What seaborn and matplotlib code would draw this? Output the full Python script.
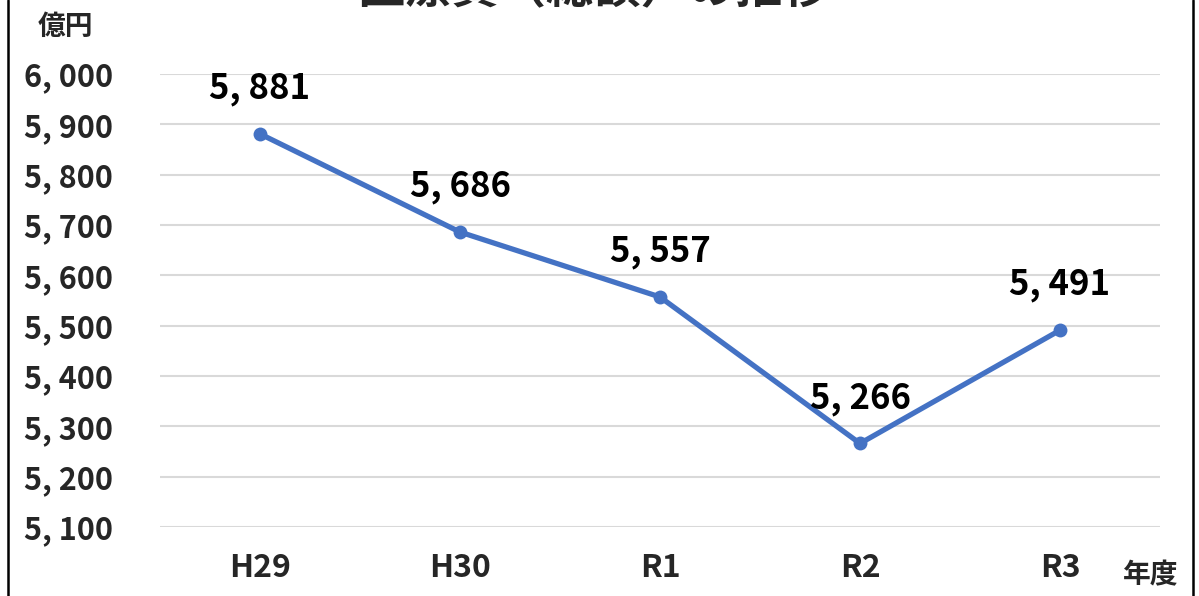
import matplotlib
matplotlib.use("Agg")
import matplotlib.pyplot as plt
import seaborn as sns
import pandas as pd
from matplotlib.lines import Line2D

years = ["H29", "H30", "R1", "R2", "R3"]
values = [5881, 5686, 5557, 5266, 5491]
yticks = [5100, 5200, 5300, 5400, 5500, 5600, 5700, 5800, 5900, 6000]
title = "医療費（総額）の推移"
y_unit = "億円"
x_unit = "年度"

sns.set_theme(style="white")
plt.rcParams["font.family"] = ["Noto Sans CJK JP", "DejaVu Sans"]

W, H = 1199, 596
fig = plt.figure(figsize=(W / 100, H / 100), dpi=100)
ax = fig.add_axes([160 / W, 1 - 527 / H, 1000 / W, (527 - 74) / H])

df = pd.DataFrame({"year": years, "value": values})
sns.lineplot(data=df, x="year", y="value", ax=ax, color="#4472C4",
             linewidth=3.8, marker="o", markersize=10, markeredgewidth=0,
             sort=False)

ax.set_xlim(-0.5, len(years) - 0.5)
ax.set_ylim(yticks[0], yticks[-1])
ax.set_yticks(yticks)
ax.set_yticklabels([f"{v:,}".replace(",", ", ") for v in yticks],
                   fontsize=22, fontweight="bold")
ax.set_xticks(range(len(years)))
ax.set_xticklabels(years, fontsize=23, fontweight="bold")
ax.tick_params(axis="y", length=0, pad=34)
ax.tick_params(axis="x", length=0, pad=18)
ax.grid(axis="y", color="#D9D9D9", linewidth=1.5)
ax.grid(axis="x", visible=False)
for s in ax.spines.values():
    s.set_visible(False)
ax.set_xlabel("")
ax.set_ylabel("")

for i, v in enumerate(values):
    ax.annotate(f"{v:,}".replace(",", ", "), (i, v), xytext=(0, 20),
                textcoords="offset points", ha="center", va="bottom",
                fontsize=25, fontweight="bold", color="black")

fig.text(65 / W, 1 - 27 / H, y_unit, ha="center", va="center",
         fontsize=20, fontweight="bold")
fig.text(1151 / W, 1 - 575 / H, x_unit, ha="center", va="center",
         fontsize=20, fontweight="bold")
fig.text(593 / W, 1 - 13 / H, title, ha="center", va="bottom",
         fontsize=34, fontweight="bold")

fig.add_artist(Line2D([7.5 / W, 7.5 / W], [0, 1], transform=fig.transFigure,
                      color="black", linewidth=1.8))
fig.add_artist(Line2D([1192.5 / W, 1192.5 / W], [0, 1], transform=fig.transFigure,
                      color="black", linewidth=1.8))

fig.savefig("out.png", dpi=100)
